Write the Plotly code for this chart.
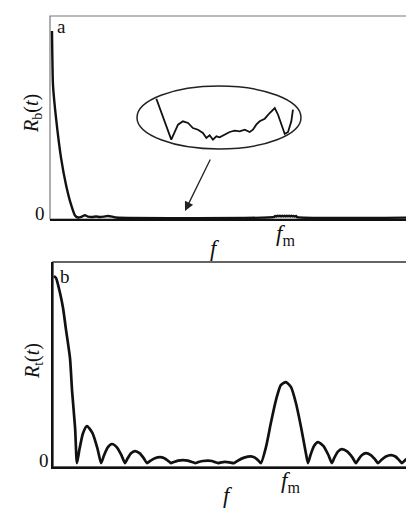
import plotly.graph_objects as go

# ---------------- data ----------------
# Panel a: R_b(t) vs f  (f in units where f_m = 100, R normalised to 100 at start)
fa = [0, 0.43, 1.72, 3.88, 6.03, 8.19, 9.91, 11.2,
      12.9, 14.2, 15.5, 17.2, 19.0, 20.7, 22.4, 24.1, 25.9, 27.6,
      95.7, 96.2, 96.7, 97.2, 97.7, 98.2, 98.7, 99.2, 99.7, 100.2, 100.7, 101.2, 101.7,
      102.2, 102.7, 103.2, 103.7, 104.2, 104.7, 105.2, 105.6,
      158.6]
Ra = [100, 71.1, 53.5, 32.1, 17.6, 7.0, 1.1, 0,
      0.5, 1.3, 0.5, 0.3, 0.5, 0.3, 0.5, 0.8, 0.5, 0,
      0.3, 0.9, 0.5, 1.0, 0.6, 1.0, 0.5, 1.0, 0.6, 1.0, 0.5, 1.0, 0.6,
      1.0, 0.5, 1.0, 0.6, 0.9, 0.5, 0.8, 0.2,
      0]

# magnified detail inside the ellipse (arbitrary zoom units 0..10)
fz = [1.18, 2.09, 2.50, 2.80, 3.11, 3.41, 3.72, 4.02, 4.23, 4.43, 4.63, 4.84, 5.04,
      5.24, 5.45, 5.65, 5.96, 6.26, 6.57, 6.87, 7.07, 7.27, 7.48, 7.79, 8.09, 8.40,
      8.60, 9.01, 9.21, 9.41, 9.51]
Rz = [7.98, 1.48, 3.86, 4.40, 4.13, 3.33, 3.06, 2.54, 1.75, 2.17, 1.48, 2.02, 1.86,
      2.17, 2.38, 2.70, 2.90, 2.81, 3.06, 2.70, 3.06, 3.86, 4.40, 4.81, 5.71, 6.51,
      5.44, 2.38, 2.70, 4.40, 6.24]

# Panel b: R_t(t) vs f
fb = [0, 0.9, 2.6, 3.9, 5.2, 6.9, 7.8, 9.1, 9.9,
      11.0, 12.5, 14.2, 16.6, 18.8, 20.3,
      21.5, 23.1, 25.0, 27.2, 29.2, 30.6,
      31.7, 33.2, 34.9, 37.0, 38.8, 40.1,
      41.5, 43.5, 45.7, 47.6, 49.2, 50.4,
      51.7, 53.5, 55.6, 57.7, 59.5, 60.8,
      62.2, 64.2, 66.4, 68.1, 69.4, 70.7,
      72.2, 73.7, 75.5, 77.6,
      79.4, 82.0, 84.9, 86.6, 88.1, 89.2,
      91.4, 93.5, 95.7, 97.8, 100.0, 102.2, 104.3, 106.5, 108.6, 109.5,
      110.6, 112.1, 113.8, 116.2, 118.3, 119.8,
      120.9, 122.4, 124.1, 126.5, 128.7, 130.2,
      131.3, 132.8, 134.5, 136.6, 138.4, 139.7,
      141.1, 143.1, 145.3, 147.2, 148.8, 150.0,
      151.4, 153.4, 155.6, 157.8]
Rb = [100, 98.9, 90.9, 82.9, 71.1, 56.1, 38.5, 18.7, 0,
      7.5, 16.0, 19.8, 16.0, 7.5, 0,
      3.9, 8.3, 10.2, 8.3, 3.9, 0,
      2.4, 5.2, 6.4, 5.2, 2.4, 0,
      1.2, 2.6, 3.2, 2.6, 1.2, 0,
      0.6, 1.3, 1.6, 1.3, 0.6, 0,
      0.5, 1.1, 1.3, 1.1, 0.5, 0,
      0.4, 0.6, 0.4, 0,
      1.4, 2.9, 3.6, 2.9, 1.4, 0,
      8.6, 21.4, 33.7, 41.7, 43.3, 40.6, 32.1, 19.3, 5.3, 0,
      4.3, 9.1, 11.2, 9.1, 4.3, 0,
      2.9, 6.1, 7.5, 6.1, 2.9, 0,
      2.0, 4.3, 5.3, 4.3, 2.0, 0,
      1.6, 3.5, 4.3, 3.5, 1.6, 0,
      1.6, 3.5, 4.3, 3.2]

# ---------------- figure ----------------
W, H = 414, 508
def px(x):
    return x / W
def py(y):
    return 1 - y / H

SERIF = "Liberation Serif, Times New Roman, serif"
INK = "#111111"

fig = go.Figure()
fig.add_trace(go.Scatter(x=fa, y=Ra, mode="lines", line=dict(color=INK, width=2.4, shape="spline", smoothing=0.5),
                         xaxis="x", yaxis="y", hoverinfo="skip"))
fig.add_trace(go.Scatter(x=fb, y=Rb, mode="lines", line=dict(color=INK, width=2.7, shape="spline", smoothing=0.6),
                         xaxis="x2", yaxis="y2", hoverinfo="skip"))
fig.add_trace(go.Scatter(x=fz, y=Rz, mode="lines", line=dict(color=INK, width=1.8),
                         xaxis="x3", yaxis="y3", hoverinfo="skip"))

ax_common = dict(showgrid=False, zeroline=False, ticks="", showticklabels=False)

fig.update_layout(
    width=W, height=H,
    margin=dict(l=0, r=0, t=0, b=0),
    paper_bgcolor="white", plot_bgcolor="white",
    showlegend=False,
    xaxis=dict(domain=[px(42), px(412)], range=[-0.86, 158.6], anchor="y",
               showline=True, linecolor=INK, linewidth=2, **ax_common),
    yaxis=dict(domain=[py(211), py(8)], range=[-0.8, 108], anchor="x",
               showline=False, **ax_common),
    xaxis2=dict(domain=[px(45), px(412)], range=[-0.43, 157.8], anchor="y2",
                showline=True, linecolor=INK, linewidth=2, **ax_common),
    yaxis2=dict(domain=[py(459), py(254)], range=[-2.1, 107.5], anchor="x2",
                showline=True, linecolor=INK, linewidth=2, **ax_common),
    xaxis3=dict(domain=[px(129), px(293)], range=[0, 10], anchor="y3", visible=False),
    yaxis3=dict(domain=[py(141), py(78)], range=[0, 10], anchor="x3", visible=False),
)

shapes = [
    dict(type="rect", xref="x domain", yref="y domain", x0=0, x1=1, y0=0, y1=1,
         line=dict(color="#777777", width=1.2), layer="below"),
    dict(type="rect", xref="x2 domain", yref="y2 domain", x0=0, x1=1, y0=0, y1=1,
         line=dict(color="#333333", width=1.4), layer="below"),
    dict(type="circle", xref="paper", yref="paper", x0=px(129), x1=px(293), y0=py(141), y1=py(78),
         line=dict(color="#222222", width=1.5)),
]
fig.update_layout(shapes=shapes)

def txt(x, y, s, size=18, xanchor="center", yanchor="middle", angle=0):
    fig.add_annotation(x=px(x), y=py(y), xref="paper", yref="paper", text=s, showarrow=False,
                       font=dict(family=SERIF, size=size, color=INK),
                       xanchor=xanchor, yanchor=yanchor, textangle=angle)

txt(53, 18, "a", 19)
txt(57, 268, "b", 19)
txt(39, 206, "0", 19, xanchor="right")
txt(43, 452, "0", 19, xanchor="right")
txt(25, 106, "<i>R</i><sub>b</sub>(<i>t</i>)", 20, angle=-90)
txt(25, 353, "<i>R</i><sub>t</sub>(<i>t</i>)", 20, angle=-90)
txt(207, 240, "<i>f</i>", 23)
txt(277, 227, "<i>f</i><sub>m</sub>", 23)
txt(220, 487, "<i>f</i>", 23)
txt(282, 474, "<i>f</i><sub>m</sub>", 23)

fig.add_annotation(x=px(177), y=py(203), xref="paper", yref="paper",
                   ax=26, ay=-53, axref="pixel", ayref="pixel",
                   text="", showarrow=True, arrowhead=2, arrowsize=1.4,
                   arrowwidth=1.3, arrowcolor="#222222")

fig.write_html("out.html")
